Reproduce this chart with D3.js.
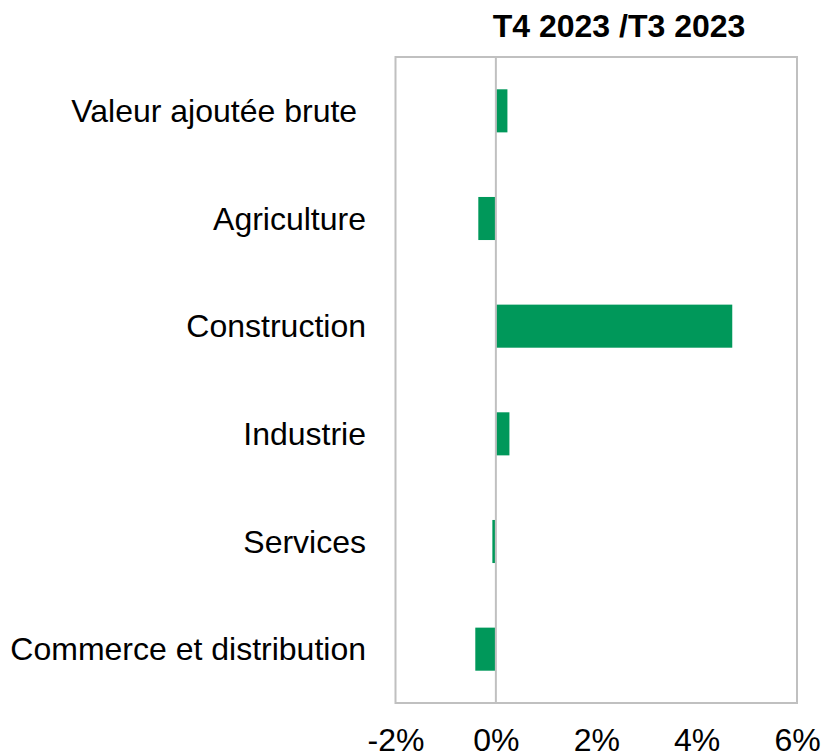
<!DOCTYPE html>
<html>
<head>
  <meta charset="utf-8">
  <script src="https://cdn.jsdelivr.net/npm/d3@7"></script>
  <style>
    body { margin: 0; background: #fff; }
    text { font-family: Arial, "Liberation Sans", sans-serif; fill: #000; }
  </style>
</head>
<body>
<script>
  // data
  var categories = ["Valeur ajoutée brute ", "Agriculture", "Construction", "Industrie", "Services", "Commerce et distribution"];
  var values = [0.0023, -0.0035, 0.0471, 0.0027, -0.0007, -0.0041];
  var tickValues = [-0.02, 0, 0.02, 0.04, 0.06];
  var title = "T4 2023 /T3 2023";

  var W = 823, H = 754;
  var plotLeft = 395.5, plotRight = 797, plotTop = 57, plotBottom = 703;

  var svg = d3.select("body").append("svg")
      .attr("width", W)
      .attr("height", H);

  var x = d3.scaleLinear().domain([-0.02, 0.06]).range([plotLeft, plotRight]);
  var y = d3.scaleBand().domain(categories).range([plotTop, plotBottom]).paddingInner(0.6).paddingOuter(0.3);

  // frame
  svg.append("rect")
      .attr("x", plotLeft).attr("y", plotTop)
      .attr("width", plotRight - plotLeft).attr("height", plotBottom - plotTop)
      .attr("fill", "none")
      .attr("stroke", "#c0c0c0")
      .attr("stroke-width", 2);

  // bars
  svg.selectAll("rect.bar")
      .data(values)
    .enter().append("rect")
      .attr("class", "bar")
      .attr("x", function(d) { return Math.min(x(0), x(d)); })
      .attr("y", function(d, i) { return y(categories[i]); })
      .attr("width", function(d) { return Math.abs(x(d) - x(0)); })
      .attr("height", y.bandwidth())
      .attr("fill", "#00985a");

  // zero line
  svg.append("line")
      .attr("x1", x(0)).attr("x2", x(0))
      .attr("y1", plotTop).attr("y2", plotBottom)
      .attr("stroke", "#c0c0c0")
      .attr("stroke-width", 2);

  // category labels
  svg.selectAll("text.cat")
      .data(categories)
    .enter().append("text")
      .attr("class", "cat")
      .attr("x", 366)
      .attr("y", function(d) { return y(d) + y.bandwidth() / 2; })
      .attr("dy", "0.35em")
      .attr("text-anchor", "end")
      .attr("font-size", 32)
      .style("white-space", "pre")
      .text(function(d) { return d; });

  // x axis
  var pct = d3.format(".0%");
  var xAxis = d3.axisBottom(x)
      .tickValues(tickValues)
      .tickSize(0)
      .tickPadding(0)
      .tickFormat(function(d) { return pct(d).replace("\u2212", "-"); });

  var ax = svg.append("g")
      .attr("transform", "translate(0," + plotBottom + ")")
      .call(xAxis);
  ax.select(".domain").remove();
  ax.selectAll("text")
      .attr("y", 48)
      .attr("dy", 0)
      .attr("font-size", 32)
      .attr("font-family", "Arial, 'Liberation Sans', sans-serif")
      .attr("fill", "#000");

  // title
  svg.append("text")
      .attr("x", 619)
      .attr("y", 37)
      .attr("text-anchor", "middle")
      .attr("font-size", 32)
      .attr("font-weight", "bold")
      .text(title);
</script>
</body>
</html>
